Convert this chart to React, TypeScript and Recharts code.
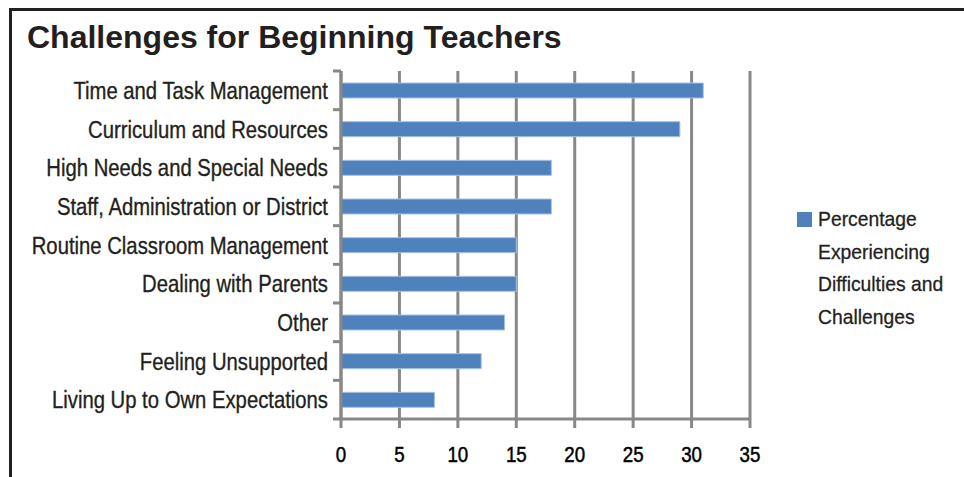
import { Bar, BarChart, CartesianGrid, Legend, XAxis, YAxis } from 'recharts'

const categories = [
  'Time and Task Management',
  'Curriculum and Resources',
  'High Needs and Special Needs',
  'Staff, Administration or District ',
  'Routine Classroom Management',
  'Dealing with Parents',
  'Other',
  'Feeling Unsupported',
  'Living Up to Own Expectations',
]
const percentages = [31, 29, 18, 18, 15, 15, 14, 12, 8]
const xTicks = [0, 5, 10, 15, 20, 25, 30, 35]
const seriesName = 'Percentage Experiencing Difficulties and Challenges'
const title = 'Challenges for Beginning Teachers'

const data = categories.map((name, i) => ({ name, value: percentages[i] }))

const W = 964
const H = 477
const MARGIN = { top: 71, right: 214, bottom: 8, left: 0 }
const X_AXIS_H = 50
const Y_AXIS_W = 341
const PLOT_H = H - MARGIN.top - MARGIN.bottom - X_AXIS_H
const BAND = PLOT_H / categories.length
const GREY = '#888888'
const INK = '#231f20'
const SANS = '"Liberation Sans", Arial, Helvetica, sans-serif'
// no condensed Helvetica here, so squeeze Liberation Sans horizontally
const SQUEEZE = 0.845

function CategoryTick(props: any) {
  const { y, payload, index } = props
  const left = Y_AXIS_W
  return (
    <g>
      <line x1={left - 8} x2={left} y1={y - BAND / 2} y2={y - BAND / 2} stroke={GREY} strokeWidth={3} />
      {index === categories.length - 1 && (
        <line x1={left - 8} x2={left} y1={y + BAND / 2} y2={y + BAND / 2} stroke={GREY} strokeWidth={3} />
      )}
      <g transform={`translate(${left - 13},${y}) scale(${SQUEEZE},1)`}>
        <text
          x={0}
          y={0}
          dy="0.36em"
          textAnchor="end"
          fill={INK}
          stroke={INK}
          strokeWidth={0.35}
          fontFamily={SANS}
          fontSize={24}
        >
          {payload.value}
        </text>
      </g>
    </g>
  )
}

function ValueTick(props: any) {
  const { x, y, payload } = props
  return (
    <g transform={`translate(${x},${y}) scale(0.85,1)`}>
      <text
        x={0}
        y={0}
        dy="0.71em"
        textAnchor="middle"
        fill="#000"
        stroke="#000"
        strokeWidth={0.5}
        fontFamily={SANS}
        fontSize={22}
      >
        {payload.value}
      </text>
    </g>
  )
}

function LegendBox() {
  return (
    <div style={{ display: 'flex', alignItems: 'flex-start', fontFamily: SANS, color: INK }}>
      <div style={{ width: 15, height: 15, background: '#4f81bd', marginTop: 5, marginRight: 6, flex: 'none' }} />
      <div
        style={{
          width: 150,
          fontSize: 21,
          lineHeight: '32.5px',
          marginTop: -4,
          transform: 'scaleX(0.92)',
          transformOrigin: 'left top',
          WebkitTextStroke: '0.3px #231f20',
        }}
      >
        {seriesName}
      </div>
    </div>
  )
}

export default function App() {
  return (
    <div style={{ position: 'absolute', left: 0, top: 0, width: W, height: H, background: '#fff' }}>
      <div style={{ position: 'absolute', left: 9, top: 8, width: W - 9, height: 3, background: INK }} />
      <div style={{ position: 'absolute', left: 9, top: 8, width: 3, height: H - 8, background: INK }} />
      <div
        style={{
          position: 'absolute',
          left: 27,
          top: 19,
          fontFamily: SANS,
          fontWeight: 700,
          fontSize: 32,
          color: INK,
          whiteSpace: 'nowrap',
        }}
      >
        {title}
      </div>
      <BarChart
        width={W}
        height={H}
        data={data}
        layout="vertical"
        margin={MARGIN}
        style={{ position: 'absolute', left: 0, top: 0 }}
      >
        <CartesianGrid horizontal={false} stroke={GREY} strokeWidth={3} />
        <XAxis
          type="number"
          domain={[0, 35]}
          ticks={xTicks}
          height={X_AXIS_H}
          axisLine={{ stroke: GREY, strokeWidth: 3 }}
          tickLine={{ stroke: GREY, strokeWidth: 3 }}
          tickSize={9}
          tickMargin={18}
          tick={<ValueTick />}
        />
        <YAxis
          type="category"
          dataKey="name"
          width={Y_AXIS_W}
          axisLine={{ stroke: GREY, strokeWidth: 3 }}
          tickLine={false}
          tick={<CategoryTick />}
          interval={0}
        />
        <Legend
          verticalAlign="middle"
          layout="horizontal"
          content={() => <LegendBox />}
          wrapperStyle={{ left: 797, top: 207, width: 170 }}
        />
        <Bar
          dataKey="value"
          name={seriesName}
          fill="#4f81bd"
          stroke="#a7c0e0"
          strokeWidth={1}
          barSize={15}
          isAnimationActive={false}
        />
      </BarChart>
    </div>
  )
}
